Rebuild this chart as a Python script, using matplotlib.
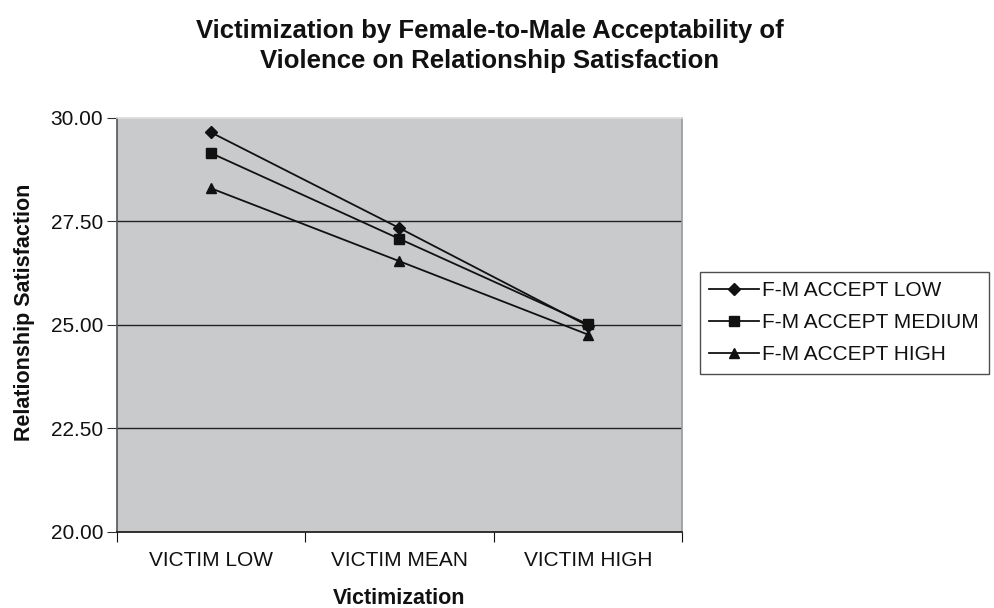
import matplotlib.pyplot as plt

plt.rcParams['font.family'] = ['Liberation Sans', 'DejaVu Sans']

categories = ['VICTIM LOW', 'VICTIM MEAN', 'VICTIM HIGH']
accept_low = [29.65, 27.34, 24.98]
accept_medium = [29.15, 27.08, 25.02]
accept_high = [28.30, 26.54, 24.77]
series_names = ['F-M ACCEPT LOW', 'F-M ACCEPT MEDIUM', 'F-M ACCEPT HIGH']
y_ticks = [20.0, 22.5, 25.0, 27.5, 30.0]

fig = plt.figure(figsize=(9.94, 6.08), dpi=100)
ax = fig.add_axes([117 / 994, 1 - 532 / 608, (682 - 117) / 994, (532 - 118) / 608])
ax.set_facecolor('#c9cacc')

x = [0.5, 1.5, 2.5]
markers = ['D', 's', '^']
sizes = [6, 6.5, 7.5]
lines = []
for vals, name, m, ms in zip([accept_low, accept_medium, accept_high], series_names, markers, sizes):
    ln, = ax.plot(x, vals, color='#111111', lw=1.3, marker=m, ms=ms, label=name)
    lines.append(ln)

ax.set_xlim(0, 3)
ax.set_ylim(20, 30)
ax.set_yticks(y_ticks)
ax.set_yticklabels(['%.2f' % v for v in y_ticks])
ax.set_xticks([0, 1, 2, 3])
ax.set_xticklabels([])
ax.set_xticks(x, minor=True)
ax.set_xticklabels(categories, minor=True)
ax.tick_params(axis='x', which='minor', length=0, pad=14, labelsize=15, labelcolor='#111111')
ax.tick_params(axis='x', which='major', length=7, direction='out', color='#111111')
ax.tick_params(axis='y', length=7, direction='out', labelsize=15, pad=3, color='#333333',
               labelcolor='#111111')

for v in [22.5, 25.0, 27.5]:
    ax.axhline(v, color='#222222', lw=1.0, zorder=1)

ax.spines['top'].set_color('#dddddd')
ax.spines['right'].set_color('#999999')
ax.spines['left'].set_color('#555555')
ax.spines['bottom'].set_color('#111111')
for s in ax.spines.values():
    s.set_linewidth(1.2)

ax.set_ylabel('Relationship Satisfaction', fontsize=15.5, fontweight='bold', color='#111111')
ax.yaxis.set_label_coords(-0.145, 0.53)
ax.set_xlabel('Victimization', fontsize=15.5, fontweight='bold', color='#111111')
ax.xaxis.set_label_coords(0.5, -0.135)

fig.text(490 / 994, 1 - 46 / 608,
         'Victimization by Female-to-Male Acceptability of\nViolence on Relationship Satisfaction',
         ha='center', va='center', fontsize=18.5, fontweight='bold', linespacing=1.28,
         color='#111111')

leg = fig.legend(handles=lines, loc='upper left', bbox_to_anchor=(700 / 994, 1 - 272 / 608),
                 frameon=True, fancybox=False, edgecolor='#222222', fontsize=15,
                 handlelength=2.4, handletextpad=0.15, borderpad=0.45, labelspacing=0.62,
                 borderaxespad=0)
leg.get_frame().set_linewidth(1.0)
for t in leg.get_texts():
    t.set_color('#111111')

fig.savefig('out.png', dpi=100)
